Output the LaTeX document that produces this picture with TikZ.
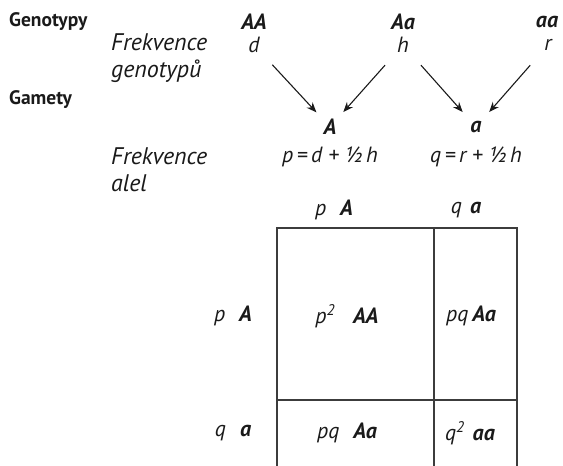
\documentclass[tikz,border=0pt]{standalone}
\usepackage{fontspec}
\setmainfont{PT Sans}
\usetikzlibrary{arrows.meta}
\definecolor{ink}{HTML}{1A1A1A}

\begin{document}
\begin{tikzpicture}[
      x=1pt, y=-1pt,
      every node/.style={text=ink, inner sep=0pt},
      head/.style={anchor=west, font=\bfseries\fontsize{19.5}{20}\selectfont},
      lbl/.style={anchor=west, align=left, font=\itshape\fontsize{24}{27}\selectfont},
      gen/.style={font=\bfseries\itshape\fontsize{22}{22}\selectfont},
      val/.style={font=\itshape\fontsize{22}{22}\selectfont},
      arr/.style={-{Stealth[length=10pt,width=8pt]}, draw=ink, line width=1.1pt,
        shorten <=27pt, shorten >=20pt},
      grid/.style={draw=ink!85, line width=1.2pt},
      ]
      \path[use as bounding box] (0,0) rectangle (563,466);
      % row titles
      \node[head] (genotypy) at (9,22) {Genotypy};
      \node[head] (gamety) at (9,100) {Gamety};
      \node[lbl] (frekgen) at (111,58) {Frekvence\\genotypů};
      \node[lbl] (frekal) at (111,170) {Frekvence\\alel};
      % genotypes and their frequencies
      \node[gen] (AA) at (254,22) {AA};
      \node[gen] (Aa) at (403,22) {Aa};
      \node[gen] (aa) at (547,22) {aa};
      \node[val] (d) at (254,45) {d};
      \node[val] (h) at (403,45) {h};
      \node[val] (r) at (548,45) {r};
      % gametes
      \node[gen] (A) at (330,127) {A};
      \node[gen] (a) at (476,127) {a};
      \node[val] (p) at (330,157) {p\,=\,d + ½\,h};
      \node[val] (q) at (476,157) {q\,=\,r + ½\,h};
      \draw[arr] (d.center) -- (A.center);
      \draw[arr] (h.center) -- (A.center);
      \draw[arr] (h.center) -- (a.center);
      \draw[arr] (r.center) -- (a.center);
      % Punnett square
      \draw[grid] (277,228) rectangle (517,480);
      \draw[grid] (434,228) -- (434,480);
      \draw[grid] (277,400) -- (517,400);
      \node[val] (colA) at (334,210) {p\hspace{14pt}\textbf{A}};
      \node[val] (cola) at (466,210) {q\hspace{8pt}\textbf{a}};
      \node[val] (rowA) at (233,316) {p\hspace{14pt}\textbf{A}};
      \node[val] (rowa) at (233,433) {q\hspace{14pt}\textbf{a}};
      \node[val] (AAcell) at (347,316) {p\textsuperscript{2}\hspace{18pt}\textbf{AA}};
      \node[val] (Aacell) at (471,316) {pq\hspace{4pt}\textbf{Aa}};
      \node[val] (aAcell) at (347,433) {pq\hspace{14pt}\textbf{Aa}};
      \node[val] (aacell) at (470,433) {q\textsuperscript{2}\hspace{8pt}\textbf{aa}};
    \end{tikzpicture}
\end{document}
